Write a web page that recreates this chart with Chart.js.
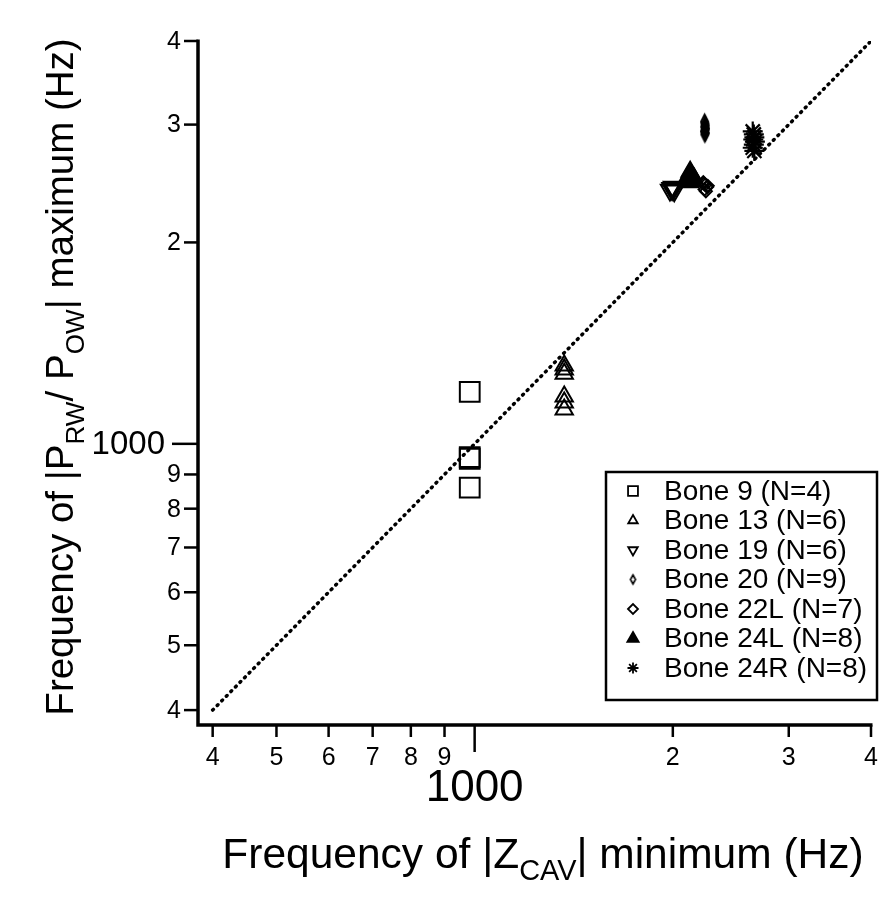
<!DOCTYPE html>
<html>
<head>
<meta charset="utf-8">
<script src="https://cdn.jsdelivr.net/npm/chart.js@4.4.1/dist/chart.umd.min.js"></script>
<style>
  html, body { margin: 0; padding: 0; background: #fff; }
  #wrap { width: 887px; height: 899px; position: relative; }
</style>
</head>
<body>
<div id="wrap"><canvas id="c"></canvas></div>
<script>
// Log-log axes: tick positions and their printed labels
const tickValues  = [400, 500, 600, 700, 800, 900, 1000, 2000, 3000, 4000];
const xTickLabels = ['4', '5', '6', '7', '8', '9', '1000', '2', '3', '4'];
const yTickLabels = ['4', '5', '6', '7', '8', '9', '1000', '2', '3', '4'];

// Frequency of |Z_CAV| minimum (x) vs frequency of |P_RW/P_OW| maximum (y), Hz
const bone9X  = [983, 983, 983, 983];
const bone9Y  = [1196, 955, 950, 860];
const bone13X = [1368, 1368, 1368, 1368, 1368, 1368];
const bone13Y = [1309, 1291, 1273, 1177, 1153, 1125];
const bone19X = [1980, 1990, 1995, 2000, 2005, 2010];
const bone19Y = [2395, 2410, 2400, 2420, 2405, 2390];
const bone20X = [2235, 2238, 2240, 2236, 2242, 2239, 2234, 2241, 2237];
const bone20Y = [3030, 3010, 2990, 2975, 2960, 2945, 2930, 2915, 2900];
const bone22LX = [2225, 2240, 2255, 2235, 2260, 2245, 2230];
const bone22LY = [2460, 2440, 2420, 2400, 2430, 2385, 2450];
const bone24LX = [2100, 2115, 2125, 2135, 2145, 2120, 2155, 2130];
const bone24LY = [2480, 2520, 2550, 2500, 2470, 2460, 2490, 2530];
const bone24RX = [2645, 2655, 2660, 2650, 2665, 2655, 2645, 2660];
const bone24RY = [2930, 2900, 2870, 2850, 2830, 2800, 2770, 2740];

const seriesLabels = ['Bone 9 (N=4)', 'Bone 13 (N=6)', 'Bone 19 (N=6)', 'Bone 20 (N=9)',
                      'Bone 22L (N=7)', 'Bone 24L (N=8)', 'Bone 24R (N=8)'];

// equality line y = x across the full range
const unityX = [400, 4000];
const unityY = [400, 4000];

const FONT = "'Liberation Sans', Arial, Helvetica, sans-serif";

function pts(xs, ys) { return xs.map((x, i) => ({ x: x, y: ys[i] })); }

// narrow outlined diamond used for Bone 20
function narrowDiamond(w, h, lw) {
  const c = document.createElement('canvas');
  c.width = Math.ceil(w + lw * 2 + 2);
  c.height = Math.ceil(h + lw * 2 + 2);
  const g = c.getContext('2d');
  const cx = c.width / 2, cy = c.height / 2;
  g.strokeStyle = '#000';
  g.lineWidth = lw;
  g.beginPath();
  g.moveTo(cx, cy - h / 2);
  g.lineTo(cx + w / 2, cy);
  g.lineTo(cx, cy + h / 2);
  g.lineTo(cx - w / 2, cy);
  g.closePath();
  g.stroke();
  return c;
}
const bone20Mark = narrowDiamond(7, 14, 2);
const bone20Legend = narrowDiamond(5, 9, 1.6);

const open = 'rgba(0,0,0,0)';
const black = '#000';

const markerSets = [
  { style: 'rect',      rot: 0,   r: 14,  fill: open,  bw: 2,   legendR: 7 },
  { style: 'triangle',  rot: 0,   r: 10,  fill: open,  bw: 2,   legendR: 5.5 },
  { style: 'triangle',  rot: 180, r: 10.5,fill: open,  bw: 2,   legendR: 5.5 },
  { style: bone20Mark,  rot: 0,   r: 7,   fill: open,  bw: 2,   legend: bone20Legend, legendR: 5 },
  { style: 'rectRot',   rot: 0,   r: 6,   fill: open,  bw: 2,   legendR: 5 },
  { style: 'triangle',  rot: 0,   r: 10,  fill: black, bw: 2,   legendR: 6.5 },
  { style: 'star',      rot: 0,   r: 10,  fill: open,  bw: 2.2, legendR: 5.5 }
];

const seriesData = [
  pts(bone9X, bone9Y), pts(bone13X, bone13Y), pts(bone19X, bone19Y), pts(bone20X, bone20Y),
  pts(bone22LX, bone22LY), pts(bone24LX, bone24LY), pts(bone24RX, bone24RY)
];

const datasets = seriesData.map((d, i) => ({
  label: seriesLabels[i],
  data: d,
  pointStyle: markerSets[i].style,
  rotation: markerSets[i].rot,
  pointRadius: markerSets[i].r,
  pointHoverRadius: markerSets[i].r,
  pointBorderWidth: markerSets[i].bw,
  borderColor: black,
  backgroundColor: markerSets[i].fill,
  pointBackgroundColor: markerSets[i].fill,
  pointBorderColor: black
}));

datasets.push({
  type: 'line',
  label: 'y = x',
  data: pts(unityX, unityY),
  showLine: true,
  borderColor: black,
  borderWidth: 3.5,
  borderDash: [1, 5.5],
  borderCapStyle: 'round',
  pointRadius: 0,
  fill: false
});

// draw a string made of normal and subscript runs, centred on (0,0) baseline
function drawRuns(ctx, runs, size) {
  const subSize = size * 0.68;
  let total = 0;
  runs.forEach(r => {
    ctx.font = (r.sub ? subSize : size) + 'px ' + FONT;
    r.w = ctx.measureText(r.t).width;
    total += r.w;
  });
  let x = -total / 2;
  ctx.textAlign = 'left';
  ctx.textBaseline = 'alphabetic';
  runs.forEach(r => {
    ctx.font = (r.sub ? subSize : size) + 'px ' + FONT;
    ctx.fillText(r.t, x, r.sub ? size * 0.28 : 0);
    x += r.w;
  });
}

const xTitleRuns = [{ t: 'Frequency of |Z' }, { t: 'CAV', sub: true }, { t: '| minimum (Hz)' }];
const yTitleRuns = [{ t: 'Frequency of |P' }, { t: 'RW', sub: true }, { t: '/ P' }, { t: 'OW', sub: true },
                    { t: '| maximum (Hz)' }];

const axesPlugin = {
  id: 'paperAxes',
  afterDraw(chart) {
    const ctx = chart.ctx;
    const xs = chart.scales.x, ys = chart.scales.y;
    const left = chart.chartArea.left, bottom = chart.chartArea.bottom;
    const yTop = ys.getPixelForValue(tickValues[tickValues.length - 1]);
    const xRight = xs.getPixelForValue(tickValues[tickValues.length - 1]);
    ctx.save();
    ctx.strokeStyle = black;
    ctx.fillStyle = black;
    ctx.lineJoin = 'miter';
    ctx.lineCap = 'butt';
    ctx.lineWidth = 3.5;
    ctx.beginPath();
    ctx.moveTo(left, yTop - 1.5);
    ctx.lineTo(left, bottom);
    ctx.lineTo(xRight + 1.5, bottom);
    ctx.stroke();

    ctx.lineWidth = 2.5;
    tickValues.forEach((v, i) => {
      const big = xTickLabels[i].length > 1;
      const px = xs.getPixelForValue(v);
      ctx.beginPath();
      ctx.moveTo(px, bottom);
      ctx.lineTo(px, bottom + (big ? 27 : 12));
      ctx.stroke();
      const py = ys.getPixelForValue(v);
      ctx.beginPath();
      ctx.moveTo(left, py);
      ctx.lineTo(left - (big ? 26 : 14), py);
      ctx.stroke();
    });

    ctx.textBaseline = 'middle';
    tickValues.forEach((v, i) => {
      const px = xs.getPixelForValue(v);
      const big = xTickLabels[i].length > 1;
      ctx.textAlign = 'center';
      ctx.font = (big ? 44 : 25) + 'px ' + FONT;
      ctx.fillText(xTickLabels[i], px, big ? bottom + 64 : bottom + 33);
    });
    tickValues.forEach((v, i) => {
      const py = ys.getPixelForValue(v);
      const big = yTickLabels[i].length > 1;
      ctx.textAlign = 'right';
      ctx.font = (big ? 33 : 25) + 'px ' + FONT;
      ctx.fillText(yTickLabels[i], big ? left - 33 : left - 17, py + 1);
    });

    // axis titles
    ctx.save();
    ctx.translate(543, 868);
    drawRuns(ctx, xTitleRuns, 42.5);
    ctx.restore();
    ctx.save();
    ctx.translate(73, 377);
    ctx.rotate(-Math.PI / 2);
    drawRuns(ctx, yTitleRuns, 38.5);
    ctx.restore();

    // legend box
    const box = { l: 606, t: 472, r: 877, b: 700 };
    ctx.lineWidth = 2.5;
    ctx.strokeRect(box.l, box.t, box.r - box.l, box.b - box.t);
    ctx.font = '28px ' + FONT;
    ctx.textAlign = 'left';
    ctx.textBaseline = 'middle';
    seriesLabels.forEach((lab, i) => {
      const cy = 491 + i * 29.5;
      const m = markerSets[i];
      ctx.fillStyle = m.fill;
      ctx.strokeStyle = black;
      ctx.lineWidth = 1.8;
      Chart.helpers.drawPoint(ctx, {
        pointStyle: m.legend || m.style,
        rotation: m.rot,
        radius: m.legendR,
        borderWidth: 1.8
      }, 633, cy);
      ctx.fillStyle = black;
      ctx.fillText(lab, 664, cy + 1);
    });
    ctx.restore();
  }
};

new Chart(document.getElementById('c'), {
  type: 'scatter',
  data: { datasets: datasets },
  options: {
    responsive: true,
    maintainAspectRatio: false,
    animation: false,
    devicePixelRatio: 1,
    layout: { padding: { left: 198, right: 9, top: 41, bottom: 174 } },
    scales: {
      x: { type: 'logarithmic', min: 380, max: 4000, display: false },
      y: { type: 'logarithmic', min: 380, max: 4000, display: false }
    },
    plugins: {
      legend: { display: false },
      tooltip: { enabled: false }
    }
  },
  plugins: [axesPlugin]
});
</script>
</body>
</html>
